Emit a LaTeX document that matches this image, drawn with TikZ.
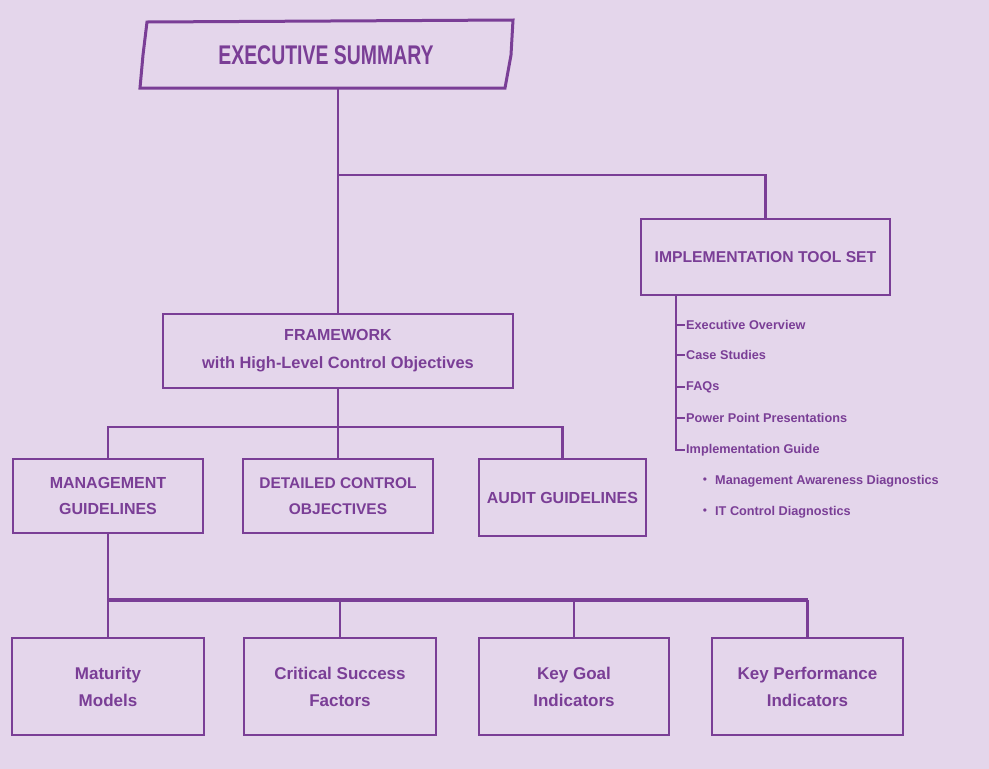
\documentclass[tikz,border=0pt]{standalone}
\usepackage{fontspec}
\setmainfont{Liberation Sans}
\newfontfamily\condfont{Liberation Sans}[FakeStretch=0.72]
\definecolor{bgc}{HTML}{E4D6EB}
\definecolor{pur}{HTML}{7A3E96}
\begin{document}
\begin{tikzpicture}[x=1pt,y=-1pt,
  box/.style={draw=pur,line width=2.8pt,fill=none,text=pur,font=\bfseries,align=center,inner sep=0pt},
  conn/.style={draw=pur,line width=2.5pt},
  item/.style={text=pur,font=\bfseries\fontsize{12.7}{15}\selectfont,anchor=west,inner sep=0pt}]
\fill[bgc] (0,0) rectangle (989,769);
\useasboundingbox (0,0) rectangle (989,769);
% executive summary
\draw[pur,line width=3pt] (147,22) -- (513,20) -- (511,55) -- (505,88) -- (140,88) -- (143,55) -- cycle;
\node[text=pur,font=\condfont\bfseries\fontsize{27}{30}\selectfont,inner sep=0pt,minimum width=366pt,minimum height=66pt] (exec) at (326,55) {EXECUTIVE SUMMARY};
% implementation
\node[box,minimum width=249pt,minimum height=76pt,font=\bfseries\fontsize{15.7}{20}\selectfont] (impl) at (765.5,257) {IMPLEMENTATION TOOL SET};
% framework
\node[box,minimum width=350pt,minimum height=74pt,font=\bfseries\fontsize{16}{28}\selectfont] (fw) at (338,351) {FRAMEWORK\\{\fontsize{16.4}{18}\selectfont with High-Level Control Objectives}};
% second row
\node[box,minimum width=190pt,minimum height=74pt,font=\bfseries\fontsize{16}{26}\selectfont] (mg) at (108,496) {MANAGEMENT\\GUIDELINES};
\node[box,minimum width=190pt,minimum height=74pt,font=\bfseries\fontsize{15.5}{26}\selectfont] (det) at (338,496) {DETAILED CONTROL\\OBJECTIVES};
\node[box,minimum width=167pt,minimum height=77pt,font=\bfseries\fontsize{16}{26}\selectfont] (au) at (562.5,497.5) {AUDIT GUIDELINES};
% bottom row
\node[box,minimum width=192pt,minimum height=97pt,font=\bfseries\fontsize{17}{27}\selectfont] (mm) at (108,686.5) {Maturity\\Models};
\node[box,minimum width=192pt,minimum height=97pt,font=\bfseries\fontsize{17}{27}\selectfont] (csf) at (340,686.5) {Critical Success\\Factors};
\node[box,minimum width=190pt,minimum height=97pt,font=\bfseries\fontsize{17}{27}\selectfont] (kgi) at (574,686.5) {Key Goal\\Indicators};
\node[box,minimum width=191pt,minimum height=97pt,font=\bfseries\fontsize{17}{27}\selectfont] (kpi) at (807.5,686.5) {Key Performance\\Indicators};
% connectors top
\coordinate (br) at (338,175);
\draw[conn] (exec.south -| fw.north) -- (fw.north);
\draw[conn] (br) -| (impl.north);
% framework to second row
\coordinate (b2) at (338,427);
\draw[conn] (fw.south) -- (det.north);
\draw[conn] (mg.north) -- (mg.north |- b2) -- (au.north |- b2) -- (au.north);
% management to bottom row
\coordinate (b3) at (108,600);
\draw[conn] (mg.south) -- (b3);
\draw[draw=pur,line width=4pt] (b3) -- (kpi.north |- b3);
\draw[conn] (csf.north |- b3) -- (csf.north);
\draw[conn] (kgi.north |- b3) -- (kgi.north);
\draw[conn] (kpi.north |- b3) -- (kpi.north);
\draw[conn] (b3) -- (mm.north);
% implementation list
\coordinate (lt) at (676,295);
\node[item] (i1) at (686,325) {Executive Overview};
\node[item] (i2) at (686,355) {Case Studies};
\node[item] (i3) at (686,387) {FAQs};
\node[item] (i4) at (686,418) {Power Point Presentations};
\node[item] (i5) at (686,450) {Implementation Guide};
\node[item] (s1) at (715,481) {Management Awareness Diagnostics};
\node[item] (s2) at (715,512) {IT Control Diagnostics};
\node[text=pur,font=\fontsize{12}{12}\selectfont,inner sep=0pt] (d1) at (705,481) {•};
\node[text=pur,font=\fontsize{12}{12}\selectfont,inner sep=0pt] (d2) at (705,512) {•};
\draw[draw=pur,line width=2pt] (lt) -- (lt |- i5.west) -- ([xshift=-1pt]i5.west);
\foreach \n in {i1,i2,i3,i4} \draw[draw=pur,line width=2pt] (lt |- \n.west) -- ([xshift=-1pt]\n.west);
\end{tikzpicture}
\end{document}
